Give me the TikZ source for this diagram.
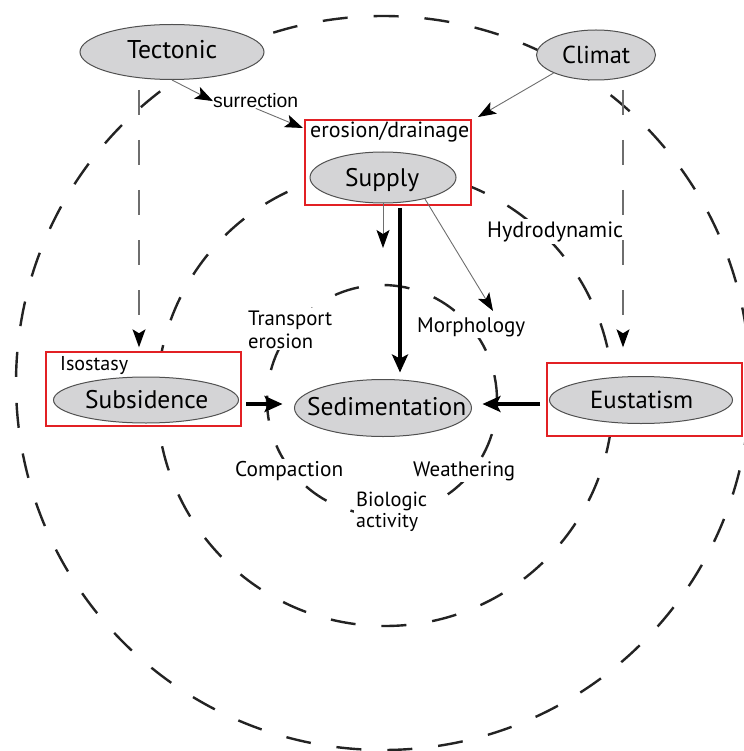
\documentclass[tikz,border=0pt]{standalone}
\usepackage{fontspec}
\setmainfont{PT Sans}
\newfontfamily\arialfont{Liberation Sans}
\usepackage{graphicx}
\usetikzlibrary{arrows.meta,shapes.geometric}
\definecolor{ellfill}{RGB}{212,212,214}
\definecolor{elldraw}{RGB}{80,80,80}
\definecolor{boxred}{RGB}{226,32,36}
\definecolor{ringcol}{RGB}{35,35,35}
\definecolor{linegray}{RGB}{110,110,110}
\newcommand{\fitw}[2]{\resizebox{#1pt}{!}{#2}}
\tikzset{
  ring/.style={draw=ringcol, line width=2.4pt, dash pattern=on 25pt off 26pt},
  redbox/.style={rectangle, draw=boxred, line width=1.4pt, fill=white, inner sep=0pt},
  oval/.style={ellipse, draw=elldraw, fill=ellfill, line width=1pt, inner sep=0pt},
  txt/.style={anchor=base west, inner sep=0pt, font=\fontsize{20}{24}\selectfont},
  lbl/.style={anchor=base west, inner sep=2pt, fill=white, font=\fontsize{20}{24}\selectfont},
  graythin/.style={draw=linegray, line width=0.9pt},
  head/.style={-{Stealth[length=18pt,width=13pt,inset=4pt,color=black]}},
  heavy/.style={draw=black, line width=4.5pt, -{Stealth[length=18pt,width=16pt,inset=4pt]}},
  gdash/.style={draw=linegray, line width=1.1pt, dash pattern=on 25pt off 25pt},
}
\begin{document}
\begin{tikzpicture}[x=1pt, y=-1pt]
\useasboundingbox (0,0) rectangle (743,751);
% rings
\draw[ring] (383,383) circle[radius=367pt];
\draw[ring] (385,398) circle[radius=228pt];
\draw[ring] (382,400) circle[radius=115pt];
% boxes
\node[redbox, minimum width=166pt, minimum height=85pt] (supbox) at (388,162.5) {};
\node[redbox, minimum width=195pt, minimum height=74pt] (subbox) at (143.5,389) {};
\node[redbox, minimum width=195pt, minimum height=73pt] (eustbox) at (644.5,399.5) {};
% ovals
\node[oval, minimum width=184pt, minimum height=55pt] (tect) at (172,52) {};
\node[oval, minimum width=119pt, minimum height=50pt] (clim) at (596,55) {};
\node[oval, minimum width=146pt, minimum height=51pt] (sup) at (383,177.5) {};
\node[oval, minimum width=185pt, minimum height=46pt] (subs) at (146,400) {};
\node[oval, minimum width=177pt, minimum height=57pt] (sed) at (383,408) {};
\node[oval, minimum width=183pt, minimum height=47pt] (eust) at (641,400) {};
% labels on rings
\node[lbl] (hyd) at (485,237) {\fitw{136}{Hydrodynamic}};
\node[lbl] (trans) at (246,325) {\fitw{84}{Transport}};
\node[lbl] (tero) at (246,348) {\fitw{65}{erosion}};
\node[lbl] (morph) at (415,332) {\fitw{108}{Morphology}};
\node[lbl] (comp) at (233,476) {\fitw{108}{Compaction}};
\node[lbl] (weath) at (411,476) {\fitw{102}{Weathering}};
\node[lbl] (bio) at (354,506) {\fitw{71}{Biologic}};
\node[lbl] (act) at (354,527) {\fitw{62}{activity}};
% node texts
\node[txt] (tTect) at (127,59) {\fitw{90}{Tectonic}};
\node[txt] (tClim) at (562,64) {\fitw{68}{Climat}};
\node[txt] (tSup) at (345,187) {\fitw{74}{Supply}};
\node[txt] (tEro) at (310,138) {\fitw{159}{erosion/drainage}};
\node[txt] (tIso) at (60,370) {\fitw{68}{Isostasy}};
\node[txt] (tSubs) at (85,408) {\fitw{123}{Subsidence}};
\node[txt] (tSed) at (307,415) {\fitw{159}{Sedimentation}};
\node[txt] (tEust) at (590,408) {\fitw{103}{Eustatism}};
\node[txt, font=\arialfont\fontsize{18}{22}\selectfont] (surr) at (213,108) {\fitw{85}{surrection}};
% coordinates
\coordinate (c1) at (478,117);
\coordinate (s3) at (303,128);
\coordinate (tv) at (139,90);
\coordinate (cv) at (623,90);
\coordinate (sd) at (383,248);
\coordinate (k1) at (400,208);
\coordinate (m1) at (493,311);
\coordinate (a1) at (246,404);
\coordinate (a2) at (540,404);
% connectors
\draw[graythin, head] (tect.south) -- (surr.west);
\draw[graythin, head] (surr.south) -- (s3);
\draw[graythin, head] (clim.south west) -- (c1);
\draw[gdash, head, shorten >=4pt] (tv) -- (tv |- subbox.north);
\draw[gdash, head, shorten >=15pt] (cv) -- (cv |- eustbox.north);
\draw[graythin, head] (sup.south) -- (sd);
\draw[heavy, shorten >=6.5pt] (k1) -- (k1 |- sed.north);
\draw[graythin, head] (sup.-27) -- (m1);
\draw[heavy, shorten >=11.5pt] (a1) -- (a1 -| sed.west);
\draw[heavy, shorten >=10.5pt] (a2) -- (a2 -| sed.east);
\end{tikzpicture}
\end{document}
